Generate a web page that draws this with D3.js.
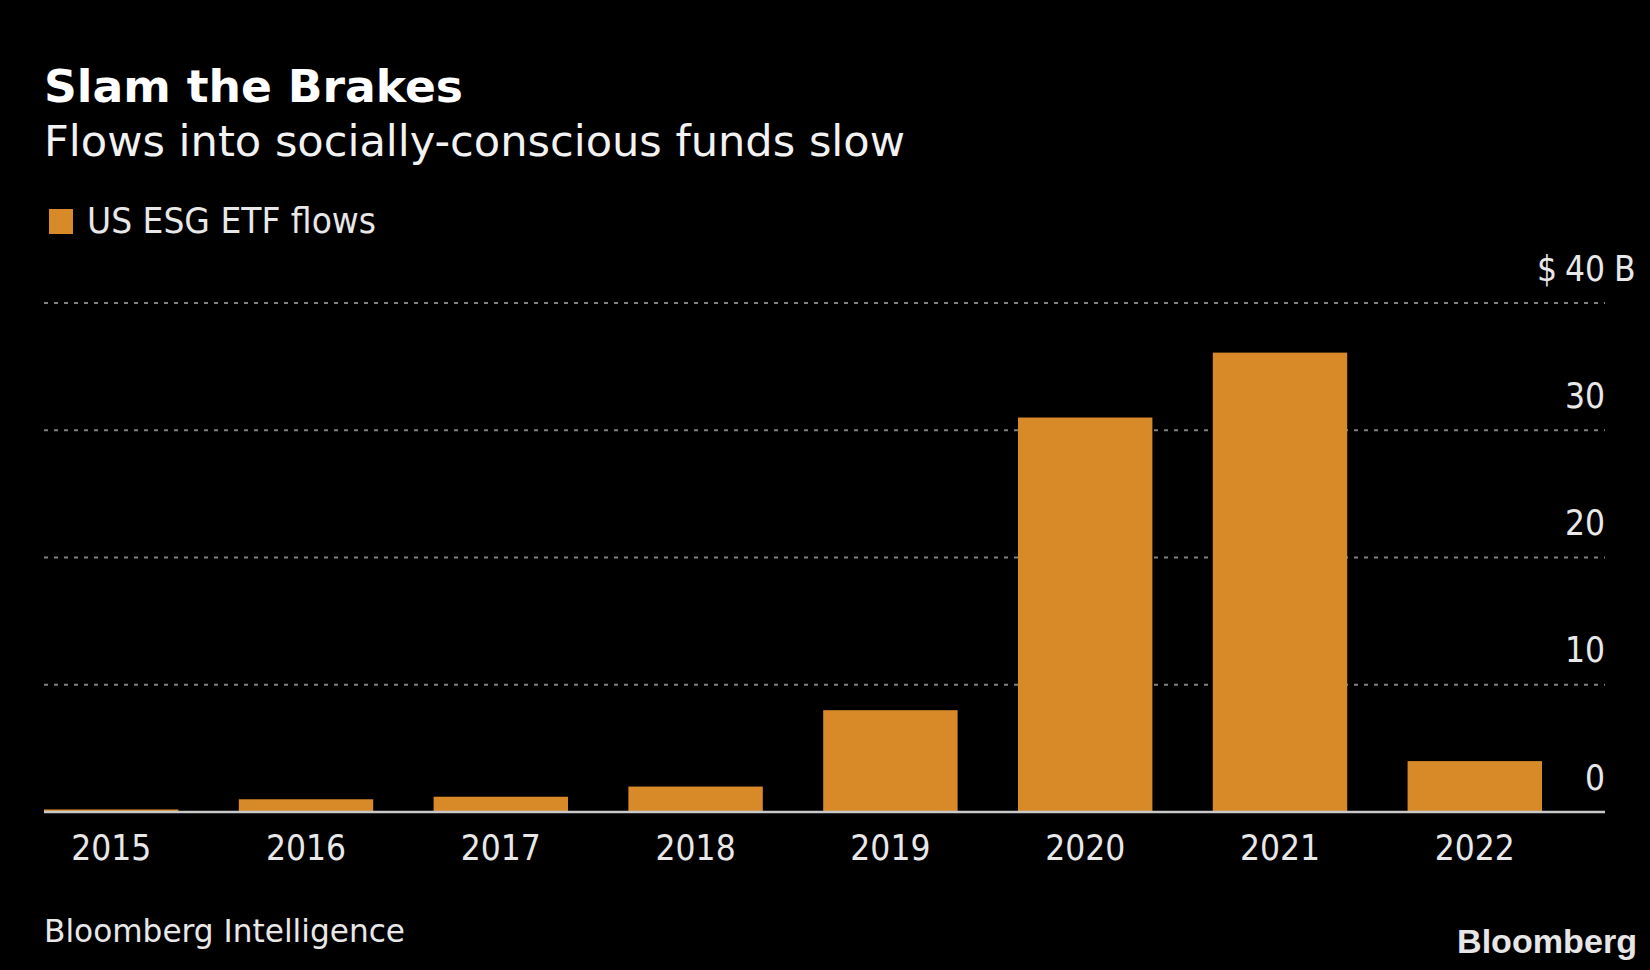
<!DOCTYPE html>
<html>
<head>
<meta charset="utf-8">
<script src="https://cdn.jsdelivr.net/npm/d3@7"></script>
<style>
  html, body { margin: 0; padding: 0; background: #000; }
  svg { display: block; }
</style>
</head>
<body>
<svg id="chart" width="1650" height="970"></svg>
<script>
const years = ["2015", "2016", "2017", "2018", "2019", "2020", "2021", "2022"];
const flows = [0.2, 1.0, 1.2, 2.0, 8.0, 31.0, 36.1, 4.0];
const yTicks = [0, 10, 20, 30, 40];
const titleText = "Slam the Brakes";
const subtitleText = "Flows into socially-conscious funds slow";
const legendLabel = "US ESG ETF flows";
const sourceText = "Bloomberg Intelligence";
const logoText = "Bloomberg";

const data = years.map((y, i) => ({ year: y, value: flows[i] }));

const W = 1650, H = 970;
const left = 44, right = 1605, plotRight = 1542;
const svg = d3.select("#chart");
svg.append("rect").attr("width", W).attr("height", H).attr("fill", "#000");

const cond = "'DejaVu Sans Condensed', 'DejaVu Sans', sans-serif";
const txtColor = "#e8e8e8";
const barColor = "#d98a28";

const x = d3.scaleBand().domain(years).range([left, plotRight]).paddingInner(0.31).paddingOuter(0);
const y = d3.scaleLinear().domain([0, 40]).range([812, 303]);

// Title & subtitle
svg.append("text").attr("x", 44).attr("y", 102)
  .attr("font-family", "'DejaVu Sans', sans-serif").attr("font-weight", "bold")
  .attr("font-size", 44).attr("fill", "#fff")
  .attr("textLength", 419).attr("lengthAdjust", "spacingAndGlyphs")
  .text(titleText);
svg.append("text").attr("x", 44).attr("y", 156)
  .attr("font-family", cond).attr("font-size", 42).attr("fill", "#f2f2f2")
  .attr("textLength", 861).attr("lengthAdjust", "spacingAndGlyphs")
  .text(subtitleText);

// Legend
svg.append("rect").attr("x", 49).attr("y", 209).attr("width", 24).attr("height", 25).attr("fill", barColor);
svg.append("text").attr("x", 87).attr("y", 233)
  .attr("font-family", cond).attr("font-size", 35).attr("fill", txtColor)
  .attr("textLength", 289).attr("lengthAdjust", "spacingAndGlyphs")
  .text(legendLabel);

// Gridlines
svg.append("g").selectAll("line").data(yTicks.filter(d => d !== 0)).join("line")
  .attr("x1", left).attr("x2", right)
  .attr("y1", d => y(d)).attr("y2", d => y(d))
  .attr("stroke", "#808080").attr("stroke-width", 2.2)
  .attr("stroke-dasharray", "4,6");

// Bars
svg.append("g").selectAll("rect").data(data).join("rect")
  .attr("x", d => x(d.year)).attr("width", x.bandwidth())
  .attr("y", d => y(d.value)).attr("height", d => y(0) - y(d.value))
  .attr("fill", barColor);

// Baseline
svg.append("line").attr("x1", left).attr("x2", right)
  .attr("y1", y(0)).attr("y2", y(0))
  .attr("stroke", "#c8c8c8").attr("stroke-width", 2.5);

// X axis
const xAxis = svg.append("g").attr("transform", `translate(0,${y(0)})`)
  .call(d3.axisBottom(x).tickSize(0).tickPadding(0));
xAxis.select(".domain").remove();
xAxis.selectAll("text")
  .attr("y", 48).attr("dy", null)
  .attr("font-family", cond).attr("font-size", 35).attr("fill", txtColor);

// Y axis (labels right-aligned above gridlines)
const yAxis = svg.append("g").attr("transform", `translate(${right},0)`)
  .call(d3.axisLeft(y).tickValues(yTicks).tickSize(0).tickPadding(0).tickFormat(d3.format("d")));
yAxis.select(".domain").remove();
yAxis.selectAll("text")
  .attr("x", 0).attr("y", -23).attr("dy", null)
  .attr("text-anchor", "end")
  .attr("font-family", cond).attr("font-size", 35).attr("fill", txtColor);

// Top label decoration: "$" before and "B" after
const topTick = yAxis.selectAll(".tick").filter(d => d === 40);
const topText = topTick.select("text");
const tw = topText.node().getComputedTextLength();
topTick.append("text").attr("x", -tw - 8).attr("y", -23).attr("text-anchor", "end")
  .attr("font-family", cond).attr("font-size", 35).attr("fill", txtColor).text("$");
topTick.append("text").attr("x", 9).attr("y", -23).attr("text-anchor", "start")
  .attr("font-family", cond).attr("font-size", 35).attr("fill", txtColor).text("B");

// Footer
svg.append("text").attr("x", 44).attr("y", 942)
  .attr("font-family", cond).attr("font-size", 32).attr("fill", txtColor)
  .attr("textLength", 361).attr("lengthAdjust", "spacingAndGlyphs")
  .text(sourceText);
svg.append("text").attr("x", 1637).attr("y", 953).attr("text-anchor", "end")
  .attr("font-family", "'Liberation Sans', Arial, sans-serif").attr("font-weight", "bold")
  .attr("font-size", 34).attr("fill", "#e6e6e6")
  .attr("textLength", 180).attr("lengthAdjust", "spacingAndGlyphs")
  .text(logoText);
</script>
</body>
</html>
